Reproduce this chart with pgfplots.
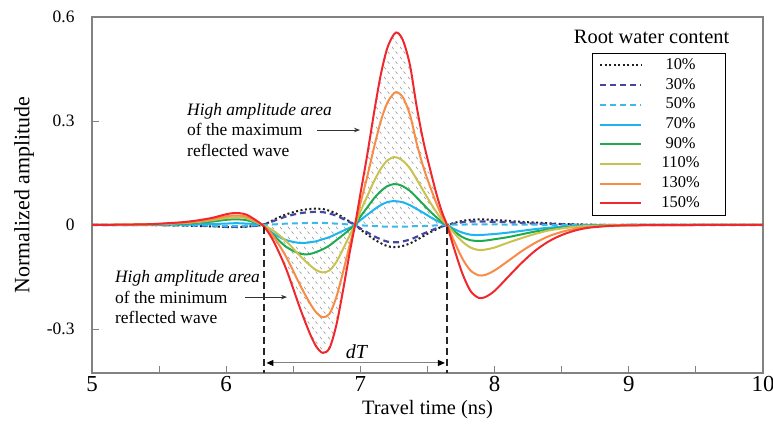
\documentclass[border=0pt]{standalone}
\usepackage{fontspec}
\setmainfont{Liberation Serif}
\usepackage{pgfplots}
\pgfplotsset{compat=1.18}
\usepackage{pgfplotstable}
\usepgfplotslibrary{fillbetween}
\usetikzlibrary{patterns.meta,arrows.meta,calc}

\definecolor{c10}{RGB}{30,30,30}
\definecolor{c30}{RGB}{70,70,160}
\definecolor{c50}{RGB}{60,185,230}
\definecolor{c70}{RGB}{30,180,240}
\definecolor{c90}{RGB}{30,170,80}
\definecolor{c110}{RGB}{200,195,80}
\definecolor{c130}{RGB}{247,140,70}
\definecolor{c150}{RGB}{240,40,45}
\definecolor{frame}{RGB}{130,130,130}

% gray dashed diagonal hatching
\tikzdeclarepattern{
  name=dashhatch,
  type=colored,
  bottom left={(0bp,0bp)},
  top right={(8bp,10bp)},
  tile size={(8bp,10bp)},
  code={
    \draw[gray!75, line width=0.8bp] (0bp,10bp) -- (2bp,7.5bp) (4bp,5bp) -- (6bp,2.5bp);
  }
}

% travel time (ns) vs normalized amplitude, one column per root water content
\pgfplotstableread{
t      c10     c30     c50     c70     c90     c110    c130    c150
5.0    0       0       0       0       0       0       0       0
5.4    0       0       0       0       0.001   0.001   0.002   0.002
5.6   -0.001  -0.001   0       0.001   0.003   0.004   0.005   0.006
5.7   -0.002  -0.001  -0.001   0.001   0.004   0.006   0.007   0.009
5.8   -0.003  -0.002  -0.001   0.002   0.007   0.009   0.011   0.014
5.9   -0.004  -0.003  -0.002   0.003   0.010   0.014   0.017   0.021
6.0   -0.006  -0.005  -0.003   0.004   0.015   0.020   0.025   0.031
6.05  -0.006  -0.005  -0.003   0.005   0.016   0.022   0.027   0.034
6.1   -0.006  -0.005  -0.003   0.005   0.016   0.022   0.027   0.034
6.15  -0.005  -0.004  -0.002   0.004   0.014   0.020   0.024   0.030
6.2   -0.003  -0.003  -0.001   0.003   0.009   0.012   0.015   0.019
6.27   0       0       0       0       0       0       0       0
6.32   0.008   0.007   0.001  -0.016  -0.018  -0.009  -0.018  -0.025
6.37   0.018   0.014   0.002  -0.029  -0.036  -0.022  -0.043  -0.060
6.45   0.031   0.025   0.004  -0.044  -0.064  -0.048  -0.094  -0.130
6.55   0.042   0.034   0.005  -0.052  -0.083  -0.089  -0.173  -0.240
6.62   0.046   0.037   0.006  -0.050  -0.084  -0.115  -0.223  -0.310
6.67   0.047   0.038   0.006  -0.047  -0.078  -0.130  -0.252  -0.350
6.72   0.046   0.037   0.006  -0.041  -0.070  -0.137  -0.266  -0.369
6.77   0.041   0.033   0.005  -0.035  -0.059  -0.131  -0.256  -0.355
6.82   0.033   0.027   0.004  -0.026  -0.044  -0.107  -0.209  -0.290
6.87   0.022   0.018   0.003  -0.017  -0.029  -0.070  -0.137  -0.190
6.92   0.010   0.008   0.001  -0.008  -0.013  -0.030  -0.058  -0.080
6.96   0       0       0       0       0       0       0       0
7.0   -0.013  -0.010  -0.001   0.014   0.024   0.039   0.062   0.090
7.05  -0.027  -0.021  -0.002   0.029   0.050   0.082   0.138   0.200
7.1   -0.041  -0.032  -0.003   0.044   0.076   0.125   0.221   0.320
7.15  -0.052  -0.041  -0.004   0.057   0.097   0.161   0.297   0.430
7.2   -0.061  -0.048  -0.005   0.066   0.112   0.186   0.352   0.510
7.25  -0.064  -0.050  -0.005   0.069   0.118   0.196   0.380   0.550
7.28  -0.063  -0.050  -0.005   0.068   0.117   0.194   0.382   0.554
7.32  -0.060  -0.047  -0.005   0.065   0.111   0.184   0.366   0.530
7.37  -0.053  -0.042  -0.004   0.057   0.098   0.163   0.317   0.460
7.42  -0.043  -0.034  -0.003   0.046   0.079   0.131   0.235   0.340
7.47  -0.032  -0.025  -0.003   0.035   0.059   0.098   0.166   0.240
7.52  -0.021  -0.017  -0.002   0.023   0.039   0.065   0.110   0.160
7.57  -0.012  -0.009  -0.001   0.012   0.021   0.035   0.059   0.085
7.61  -0.004  -0.004   0       0.005   0.008   0.014   0.024   0.035
7.645  0       0       0       0       0       0       0       0
7.7    0.006   0.004   0.001  -0.012  -0.018  -0.024  -0.048  -0.070
7.76   0.012   0.008   0.001  -0.022  -0.035  -0.048  -0.097  -0.140
7.82   0.015   0.010   0.002  -0.028  -0.044  -0.065  -0.131  -0.190
7.88   0.016   0.010   0.002  -0.029  -0.046  -0.072  -0.145  -0.210
7.93   0.016   0.010   0.002  -0.028  -0.045  -0.071  -0.144  -0.208
8.0    0.014   0.009   0.002  -0.026  -0.041  -0.065  -0.131  -0.190
8.1    0.012   0.008   0.001  -0.022  -0.035  -0.051  -0.104  -0.150
8.2    0.009   0.006   0.001  -0.017  -0.027  -0.038  -0.076  -0.110
8.3    0.007   0.004   0.001  -0.012  -0.019  -0.026  -0.052  -0.075
8.4    0.005   0.003   0      -0.008  -0.013  -0.016  -0.033  -0.048
8.5    0.003   0.002   0      -0.005  -0.008  -0.010  -0.020  -0.029
8.6    0.002   0.001   0      -0.003  -0.005  -0.005  -0.011  -0.016
8.7    0.001   0       0      -0.001  -0.002  -0.003  -0.006  -0.008
8.85   0       0       0      -0.001  -0.001  -0.001  -0.002  -0.003
9.0    0       0       0       0       0       0      -0.001  -0.001
9.5    0       0       0       0       0       0       0       0
10.0   0       0       0       0       0       0       0       0
}\wave

\begin{document}
\begin{tikzpicture}
\begin{axis}[
    name=ax,
    set layers,
    scale only axis,
    width=671bp, height=356bp,
    xmin=5, xmax=10,
    ymin=-0.427, ymax=0.6,
    xtick={5,6,7,8,9,10},
    xticklabels={5,6,7,8,9,10},
    minor xtick={5.5,6.5,7.5,8.5,9.5},
    ytick={-0.3,0,0.3,0.6},
    yticklabels={-0.3,0,0.3,0.6},
    xtick pos=bottom, ytick pos=left,
    tick align=inside,
    major tick length=7bp, minor tick length=7bp,
    axis line style={frame, line width=1.1bp},
    tick style={frame, line width=0.9bp},
    xticklabel style={font=\fontsize{23}{23}\selectfont},
    yticklabel style={font=\fontsize{17.5}{17.5}\selectfont, xshift=-14bp},
    xlabel={Travel time (ns)},
    ylabel={Normalized amplitude},
    xlabel style={at={(axis description cs:0.5,-0.104)}, anchor=center, font=\fontsize{20.5}{20.5}\selectfont},
    ylabel style={at={(axis description cs:-0.1013,0.5)}, anchor=center, font=\fontsize{22}{22}\selectfont},
    legend style={
        at={(0.745,0.899)}, anchor=north west,
        draw=black, line width=1bp, fill=white,
        inner xsep=7bp, inner ysep=4bp,
        row sep=3.7bp, column sep=0bp,
        font=\fontsize{16.5}{16.5}\selectfont,
        nodes={inner xsep=2bp, inner ysep=1bp, text width=72bp, align=center, text height=11bp, text depth=3bp}
    },
    legend image code/.code={\draw[#1] (0bp,0bp) -- (41bp,0bp);},
]

\addplot[draw=none, forget plot, name path=zero] coordinates {(5,0) (10,0)};

\addplot[c10, line width=2bp, dash pattern=on 2bp off 2.5bp, smooth] table[x=t, y=c10] {\wave};
\addlegendentry{10\%}
\addplot[c30, line width=2.2bp, dash pattern=on 6bp off 4bp, smooth] table[x=t, y=c30] {\wave};
\addlegendentry{30\%}
\addplot[c50, line width=2bp, dash pattern=on 6bp off 4bp, smooth] table[x=t, y=c50] {\wave};
\addlegendentry{50\%}
\addplot[c70, line width=2bp, smooth] table[x=t, y=c70] {\wave};
\addlegendentry{70\%}
\addplot[c90, line width=2bp, smooth] table[x=t, y=c90] {\wave};
\addlegendentry{90\%}
\addplot[c110, line width=2bp, smooth] table[x=t, y=c110] {\wave};
\addlegendentry{110\%}
\addplot[c130, line width=2bp, smooth] table[x=t, y=c130] {\wave};
\addlegendentry{130\%}
\addplot[c150, line width=2bp, smooth, name path=red] table[x=t, y=c150] {\wave};
\addlegendentry{150\%}

\addplot[pattern=dashhatch, forget plot] fill between[of=red and zero, soft clip={domain=6.27:7.645}];

% dT markers
\draw[black!85, line width=2bp, dash pattern=on 7bp off 4bp] (axis cs:6.285,-0.005) -- (axis cs:6.285,-0.427);
\draw[black!85, line width=2bp, dash pattern=on 7bp off 4bp] (axis cs:7.645,-0.005) -- (axis cs:7.645,-0.427);
\draw[gray, line width=1bp, {Triangle[black,length=7bp,width=6bp]}-{Triangle[black,length=7bp,width=6bp]}]
    (axis cs:6.3,-0.398) -- (axis cs:7.63,-0.398);
\node[font=\fontsize{20}{20}\selectfont\itshape] at (axis cs:6.97,-0.366) {dT};

% annotations
\node[anchor=west, inner sep=0pt, align=left, font=\fontsize{17.5}{21}\selectfont] at (axis cs:5.708,0.274)
    {\textit{High amplitude area}\\of the maximum\\reflected wave};
\draw[black!80, line width=0.8bp, -{Stealth[length=6bp,width=4.5bp]}] (axis cs:6.677,0.274) -- (axis cs:6.997,0.274);
\node[anchor=west, inner sep=0pt, align=left, font=\fontsize{17.5}{21}\selectfont] at (axis cs:5.171,-0.208)
    {\textit{High amplitude area}\\of the minimum\\reflected wave};
\draw[black!80, line width=0.8bp, -{Stealth[length=6bp,width=4.5bp]}] (axis cs:6.14,-0.208) -- (axis cs:6.453,-0.208);

% legend title
\node[font=\fontsize{20.5}{20.5}\selectfont] at (axis cs:9.17,0.542) {Root water content};
\end{axis}
\pgfresetboundingbox
\path[use as bounding box] ($(ax.south west)+(-92bp,-52bp)$) rectangle ($(ax.north east)+(10bp,17bp)$);
\end{tikzpicture}
\end{document}
